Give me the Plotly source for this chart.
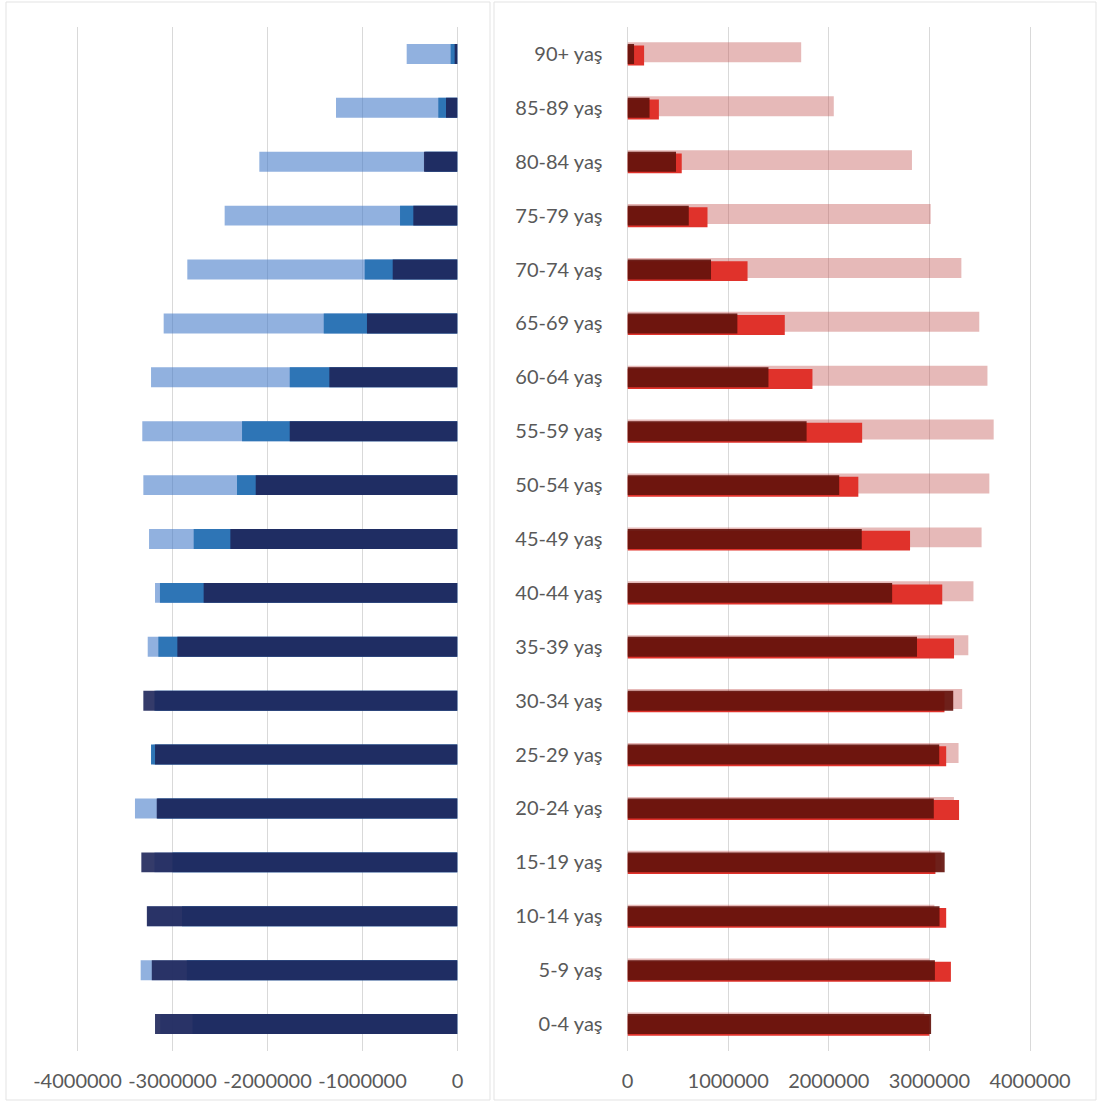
import plotly.graph_objects as go

# Age groups, bottom to top
age_groups = ["0-4 yaş", "5-9 yaş", "10-14 yaş", "15-19 yaş", "20-24 yaş",
              "25-29 yaş", "30-34 yaş", "35-39 yaş", "40-44 yaş", "45-49 yaş",
              "50-54 yaş", "55-59 yaş", "60-64 yaş", "65-69 yaş", "70-74 yaş",
              "75-79 yaş", "80-84 yaş", "85-89 yaş", "90+ yaş"]

# Male population per age group (three series, drawn back to front)
male_light = [3130000, 3335000, 3265000, 3190000, 3395000, 3200000, 3170000,
              3261000, 3184000, 3247000, 3307000, 3318000, 3226000, 3093000,
              2844000, 2451000, 2086000, 1279000, 535000]
male_mid = [2790000, 2850000, 2900000, 3000000, 3160000, 3226000, 3190000,
            3149000, 3132000, 2777000, 2321000, 2268000, 1766000, 1408000,
            977000, 605000, 340000, 202000, 72000]
male_dark = [3184000, 3218000, 3270000, 3328000, 3166000, 3184000, 3307000,
             2949000, 2672000, 2391000, 2124000, 1766000, 1349000, 953000,
             682000, 465000, 353000, 121000, 30000]

# Female population per age group
female_light = [2950000, 3000000, 3050000, 3120000, 3244000, 3290000, 3326000,
                3387000, 3438000, 3519000, 3596000, 3639000, 3577000, 3496000,
                3318000, 3013000, 2827000, 2050000, 1726000]
female_mid = [3000000, 3214000, 3167000, 3060000, 3295000, 3167000, 3150000,
              3245000, 3128000, 2808000, 2294000, 2332000, 1838000, 1563000,
              1193000, 795000, 539000, 312000, 165000]
female_dark = [3017000, 3055000, 3101000, 3152000, 3044000, 3098000, 3237000,
               2877000, 2630000, 2328000, 2104000, 1780000, 1401000, 1092000,
               830000, 609000, 482000, 219000, 65000]

# Axis ticks
male_ticks = [-4000000, -3000000, -2000000, -1000000, 0]
male_ticktext = ["-4000000", "-3000000", "-2000000", "-1000000", "0"]
female_ticks = [0, 1000000, 2000000, 3000000, 4000000]
female_ticktext = ["0", "1000000", "2000000", "3000000", "4000000"]

W, H = 1099, 1110
BAR_W = 0.37
FONT = dict(family="Lato, Carlito, 'Liberation Sans', sans-serif", size=20, color="#595959")
GRID = "#d9d9d9"

# Small padding past the outer tick so its grid line is still drawn
PAD = 20000
M_PX = 95.0     # pixels per million, male axis
F_PX = 100.6    # pixels per million, female axis

fig = go.Figure()

# Male side (plotted to the left)
male_series = [
    (male_light, "rgba(65,120,200,0.58)", 0.0),
    (male_mid, "#2E75B6", 0.0),
    (male_dark, "rgba(30,38,90,0.9)", 0.0),
]
for vals, color, shift in male_series:
    fig.add_trace(go.Bar(
        y=age_groups, x=[-v for v in vals], orientation="h",
        marker=dict(color=color, line=dict(width=0)),
        width=BAR_W, offset=-BAR_W / 2 + shift,
        xaxis="x", yaxis="y", showlegend=False, hoverinfo="skip",
    ))

# Female side (plotted to the right)
female_series = [
    (female_light, "rgba(192,80,77,0.4)", 0.03),
    (female_mid, "#E0322B", -0.03),
    (female_dark, "rgba(100,18,12,0.92)", 0.0),
]
for vals, color, shift in female_series:
    fig.add_trace(go.Bar(
        y=age_groups, x=vals, orientation="h",
        marker=dict(color=color, line=dict(width=0)),
        width=BAR_W, offset=-BAR_W / 2 + shift,
        xaxis="x2", yaxis="y2", showlegend=False, hoverinfo="skip",
    ))

y_dom = [1 - 1051 / H, 1 - 27 / H]
m_left = 77.5 - PAD / 1e6 * M_PX
f_right = 1030 + PAD / 1e6 * F_PX

fig.update_layout(
    template="none",
    width=W, height=H, autosize=False,
    margin=dict(l=0, r=0, t=0, b=0, pad=0, autoexpand=False),
    paper_bgcolor="white", plot_bgcolor="white",
    barmode="overlay",
    font=FONT,
    xaxis=dict(
        domain=[m_left / W, 457.5 / W], range=[-4000000 - PAD, 0], automargin=False,
        tickvals=male_ticks, ticktext=male_ticktext,
        showgrid=True, gridcolor=GRID, gridwidth=1,
        zeroline=True, zerolinecolor=GRID, zerolinewidth=1,
        showline=False, ticks="", tickfont=FONT, ticklabelstandoff=16,
    ),
    yaxis=dict(
        domain=y_dom, anchor="x", type="category", automargin=False,
        categoryorder="array", categoryarray=age_groups,
        showticklabels=False, showgrid=False, zeroline=False, showline=False,
        range=[-0.5, len(age_groups) - 0.5],
    ),
    xaxis2=dict(
        domain=[627.5 / W, f_right / W], range=[0, 4000000 + PAD], anchor="y2",
        automargin=False,
        tickvals=female_ticks, ticktext=female_ticktext,
        showgrid=True, gridcolor=GRID, gridwidth=1,
        zeroline=True, zerolinecolor=GRID, zerolinewidth=1,
        showline=False, ticks="", tickfont=FONT, ticklabelstandoff=16,
    ),
    yaxis2=dict(
        domain=y_dom, anchor="x2", type="category", automargin=False,
        categoryorder="array", categoryarray=age_groups,
        showticklabels=True, tickfont=FONT, ticks="", ticklabelstandoff=24,
        showgrid=False, zeroline=False, showline=False,
        range=[-0.5, len(age_groups) - 0.5],
    ),
    shapes=[
        dict(type="rect", xref="paper", yref="paper",
             x0=6 / W, x1=490 / W, y0=1 - 1100 / H, y1=1 - 2 / H,
             line=dict(color="#e3e3e3", width=1), fillcolor="rgba(0,0,0,0)", layer="below"),
        dict(type="rect", xref="paper", yref="paper",
             x0=494 / W, x1=1096 / W, y0=1 - 1100 / H, y1=1 - 2 / H,
             line=dict(color="#e3e3e3", width=1), fillcolor="rgba(0,0,0,0)", layer="below"),
    ],
)

fig.write_html("out.html", config={"responsive": False, "displayModeBar": False})
